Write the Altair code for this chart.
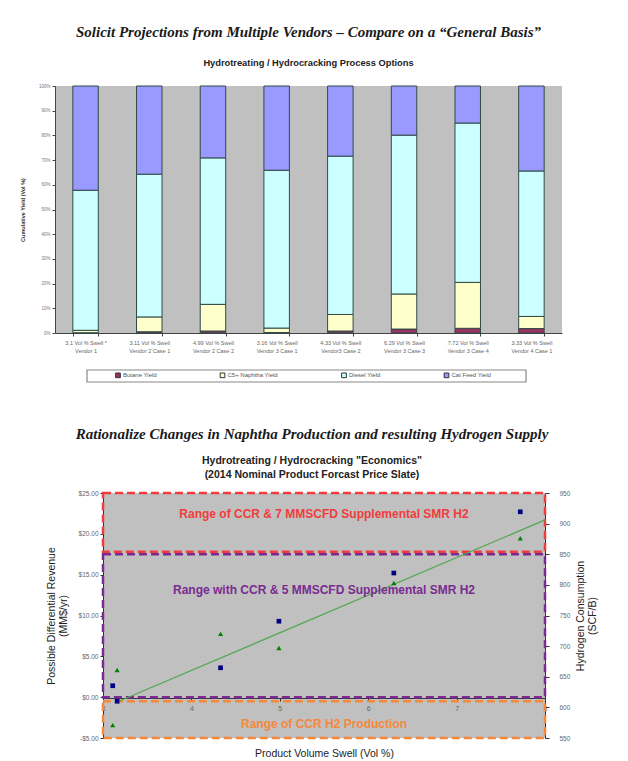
import altair as alt
import pandas as pd

SANS = "Liberation Sans"
SERIF = "Liberation Serif"

# ---------------- bar chart data ----------------
categories = [
    "3.1 Vol % Swell *|Vendor 1",
    "3.11 Vol % Swell|Vendor 2 Case 1",
    "4.99 Vol % Swell|Vendor 2 Case 2",
    "3.16 Vol % Swell|Vendor 3 Case 1",
    "4.33 Vol % Swell|Vendor3 Case 2",
    "6.29 Vol % Swell|Vendor 3 Case 3",
    "7.72 Vol % Swell|Vendor 3 Case 4",
    "3.33 Vol % Swell|Vendor 4 Case 1",
]
series = ["Butane Yield", "C5+ Naphtha Yield", "Diesel Yield", "Cat Feed Yield"]
butane = [0.1, 0.5, 0.8, 0.2, 0.8, 1.6, 1.9, 1.8]
naphtha = [1.0, 6.0, 10.8, 1.8, 6.7, 14.2, 18.6, 4.9]
diesel = [56.7, 57.8, 59.3, 63.9, 64.1, 64.3, 64.5, 58.9]
catfeed = [42.2, 35.7, 29.1, 34.1, 28.4, 19.9, 15.0, 34.4]
series_colors = ["#993366", "#FFFFCC", "#CCFFFF", "#9999FF"]
pct_ticks = [0, 10, 20, 30, 40, 50, 60, 70, 80, 90, 100]

# ---------------- scatter chart data ----------------
swell = [3.11, 3.16, 4.33, 4.99, 6.29, 7.72]
revenue = [1.4, -0.5, 3.6, 9.3, 15.2, 22.7]
h2_consumption = [571, 661, 720, 697, 803, 876]
trend_x = [3.18, 8.0]
trend_y = [-0.5, 21.7]
range_labels = [
    "Range of CCR & 7 MMSCFD Supplemental SMR H2",
    "Range with CCR & 5 MMSCFD Supplemental SMR H2",
    "Range of CCR H2 Production",
]
range_lo = [17.8, 0.0, -5.0]
range_hi = [25.0, 17.5, -0.5]
range_label_y = [22.4, 13.1, -3.3]
range_colors = ["#F03C3C", "#7A2A90", "#F5883A"]
swell_domain = [3, 8]
swell_ticks = [3, 4, 5, 6, 7, 8]
rev_domain = [-5, 25]
rev_ticks = [-5, 0, 5, 10, 15, 20, 25]
h2_domain = [550, 950]
h2_ticks = [550, 600, 650, 700, 750, 800, 850, 900, 950]

TITLE1 = "Solicit Projections from Multiple Vendors \u2013 Compare on a \u201cGeneral Basis\u201d"
SUB1 = "Hydrotreating / Hydrocracking Process Options"
TITLE2 = "Rationalize Changes in Naphtha Production and resulting Hydrogen Supply"
SUB2 = ["Hydrotreating / Hydrocracking \"Economics\"", "(2014 Nominal Product Forcast Price Slate)"]

# ---------------- bar chart ----------------
rows = []
for j, (s, vals) in enumerate(zip(series, [butane, naphtha, diesel, catfeed])):
    for c, v in zip(categories, vals):
        rows.append({"cat": c, "series": s, "ord": j, "value": v})
bar_df = pd.DataFrame(rows)

bars = alt.Chart(bar_df).mark_bar(stroke="#2F4A45", strokeWidth=1).encode(
    x=alt.X(
        "cat:N", sort=categories,
        scale=alt.Scale(paddingInner=0.6, paddingOuter=0.28),
        axis=alt.Axis(
            title=None, labelExpr="split(datum.label, '|')", labelAngle=0,
            labelFontSize=5.5, labelColor="#666", labelLineHeight=8.5, labelPadding=4,
            labelFont=SANS, tickBand="extent", tickSize=3, tickColor="#444",
            domainColor="#444",
        ),
    ),
    y=alt.Y(
        "value:Q", stack="zero",
        scale=alt.Scale(domain=[0, 100], nice=False),
        axis=alt.Axis(
            values=pct_ticks, labelExpr="datum.value + '%'",
            title="Cumulative Yield (Vol %)", titleFontSize=5.5, titleFontWeight="bold",
            titleColor="#333", titlePadding=13, titleFont=SANS,
            labelFontSize=4.5, labelColor="#777", labelFont=SANS, labelPadding=2,
            tickSize=3, tickColor="#444", domainColor="#444", grid=False,
        ),
    ),
    color=alt.Color(
        "series:N", sort=series,
        scale=alt.Scale(domain=series, range=series_colors),
        legend=alt.Legend(
            title=None, orient="none", legendX=60, legendY=286,
            direction="horizontal", columns=4, columnPadding=60.5,
            symbolType="square", symbolSize=22, symbolStrokeColor="#333",
            symbolStrokeWidth=1, labelFontSize=6, labelColor="#555", labelFont=SANS,
            padding=0, labelOffset=2, gridAlign="each",
        ),
    ),
    order=alt.Order("ord:Q", sort="ascending"),
)

legend_box = alt.Chart(pd.DataFrame({"a": [0]})).mark_rect(
    fill="white", stroke="#888", strokeWidth=1.2
).encode(x=alt.value(32), x2=alt.value(471), y=alt.value(284), y2=alt.value(296))

bar_chart = alt.layer(legend_box, bars).properties(
    width=507, height=247,
    view=alt.ViewBackground(fill="#C0C0C0", strokeWidth=0),
    title=alt.TitleParams(
        text=TITLE1, subtitle=SUB1, anchor="middle",
        font=SERIF, fontSize=15, fontStyle="italic", fontWeight="bold", color="#1a1a1a",
        subtitleFont=SANS, subtitleFontSize=9.3, subtitleFontWeight="bold",
        subtitleColor="#222", subtitlePadding=19, offset=15,
    ),
)

# ---------------- scatter chart ----------------
x_scale = alt.Scale(domain=swell_domain, nice=False, zero=False)
y_scale = alt.Scale(domain=rev_domain, nice=False, zero=False)
x_axis = alt.Axis(
    values=swell_ticks, format="d", offset=-40, labelFlush=False,
    title="Product Volume Swell (Vol %)", titleY=55, titleBaseline="middle",
    titleFontSize=10.5, titleFontWeight="normal", titleColor="#222", titleFont=SANS,
    labelFontSize=7, labelColor="#666", labelFont=SANS, labelPadding=3,
    tickSize=3, tickColor="#333", domainColor="#333", grid=False,
)
y_axis = alt.Axis(
    values=rev_ticks,
    labelExpr="(datum.value < 0 ? '-' : '') + '$' + format(abs(datum.value), '.2f')",
    title=["Possible Differential Revenue", "(MM$/yr)"], titleLineHeight=12,
    titleFontSize=10.5, titleFontWeight="normal", titleColor="#222", titleFont=SANS,
    titlePadding=10, labelFontSize=6.5, labelColor="#666", labelFont=SANS,
    labelPadding=2, tickSize=3, tickColor="#333", domainColor="#333", grid=False,
)


def X(field):
    return alt.X(field, type="quantitative", scale=x_scale, axis=x_axis)


def Y(field):
    return alt.Y(field, type="quantitative", scale=y_scale, axis=y_axis)


rect_df = pd.DataFrame({
    "x0": [swell_domain[0]] * 3, "x1": [swell_domain[1]] * 3,
    "lo": range_lo, "hi": range_hi, "color": range_colors,
})
rects = alt.Chart(rect_df).mark_rect(
    fillOpacity=0, strokeDash=[8, 4], strokeWidth=2.5
).encode(x=X("x0"), x2="x1", y=Y("lo"), y2="hi", stroke=alt.Stroke("color:N", scale=None))

trend_df = pd.DataFrame({"x": trend_x, "y": trend_y})
trend = alt.Chart(trend_df).mark_line(color="#55A855", strokeWidth=1.3).encode(x=X("x"), y=Y("y"))

pts_df = pd.DataFrame({"x": swell, "rev": revenue, "h2": h2_consumption})
squares = alt.Chart(pts_df).mark_point(
    shape="square", filled=True, color="#000080", size=22, opacity=1
).encode(x=X("x"), y=Y("rev"))

label_df = pd.DataFrame({
    "x": [(swell_domain[0] + swell_domain[1]) / 2] * 3,
    "y": range_label_y, "label": range_labels, "color": range_colors,
})
labels = alt.Chart(label_df).mark_text(
    font=SANS, fontSize=12, fontWeight="bold"
).encode(x=X("x"), y=Y("y"), text="label:N", color=alt.Color("color:N", scale=None))

triangles = alt.Chart(pts_df).mark_point(
    shape="triangle-up", filled=True, color="#008000", size=26, opacity=1
).encode(
    x=X("x"),
    y=alt.Y(
        "h2:Q", scale=alt.Scale(domain=h2_domain, nice=False, zero=False),
        axis=alt.Axis(
            orient="right", values=h2_ticks,
            title=["Hydrogen Consumption", "(SCF/B)"], titleAngle=270, titleLineHeight=12,
            titleFontSize=10.5, titleFontWeight="normal", titleColor="#222", titleFont=SANS,
            titlePadding=4, labelFontSize=6.5, labelColor="#666", labelFont=SANS,
            labelPadding=10, tickSize=4, tickColor="#333", domainColor="#333", grid=False,
        ),
    ),
)

left_layer = alt.layer(rects, trend, squares, labels)
scatter = alt.layer(left_layer, triangles).resolve_scale(y="independent").properties(
    width=442, height=245,
    view=alt.ViewBackground(fill="#C0C0C0", strokeWidth=0),
    title=alt.TitleParams(
        text=TITLE2, subtitle=SUB2, anchor="middle", dx=-12,
        font=SERIF, fontSize=15, fontStyle="italic", fontWeight="bold", color="#1a1a1a",
        subtitleFont=SANS, subtitleFontSize=10.5, subtitleFontWeight="bold",
        subtitleColor="#222", subtitleLineHeight=14, subtitlePadding=14, offset=10,
    ),
)

spacer = alt.Chart(pd.DataFrame({"a": [0]})).mark_point(opacity=0).encode(
    x=alt.value(0), y=alt.value(0)
).properties(width=48, height=245, view=alt.ViewBackground(strokeWidth=0))

bottom_row = alt.hconcat(spacer, scatter, spacing=0, bounds="flush")

chart = alt.vconcat(bar_chart, bottom_row, spacing=160, bounds="flush").properties(
    padding={"left": 12, "top": 16, "right": 5, "bottom": 0}
).configure(font=SANS).configure_view(strokeWidth=0)

chart.save("out.html", embed_options={"renderer": "svg", "actions": False})
